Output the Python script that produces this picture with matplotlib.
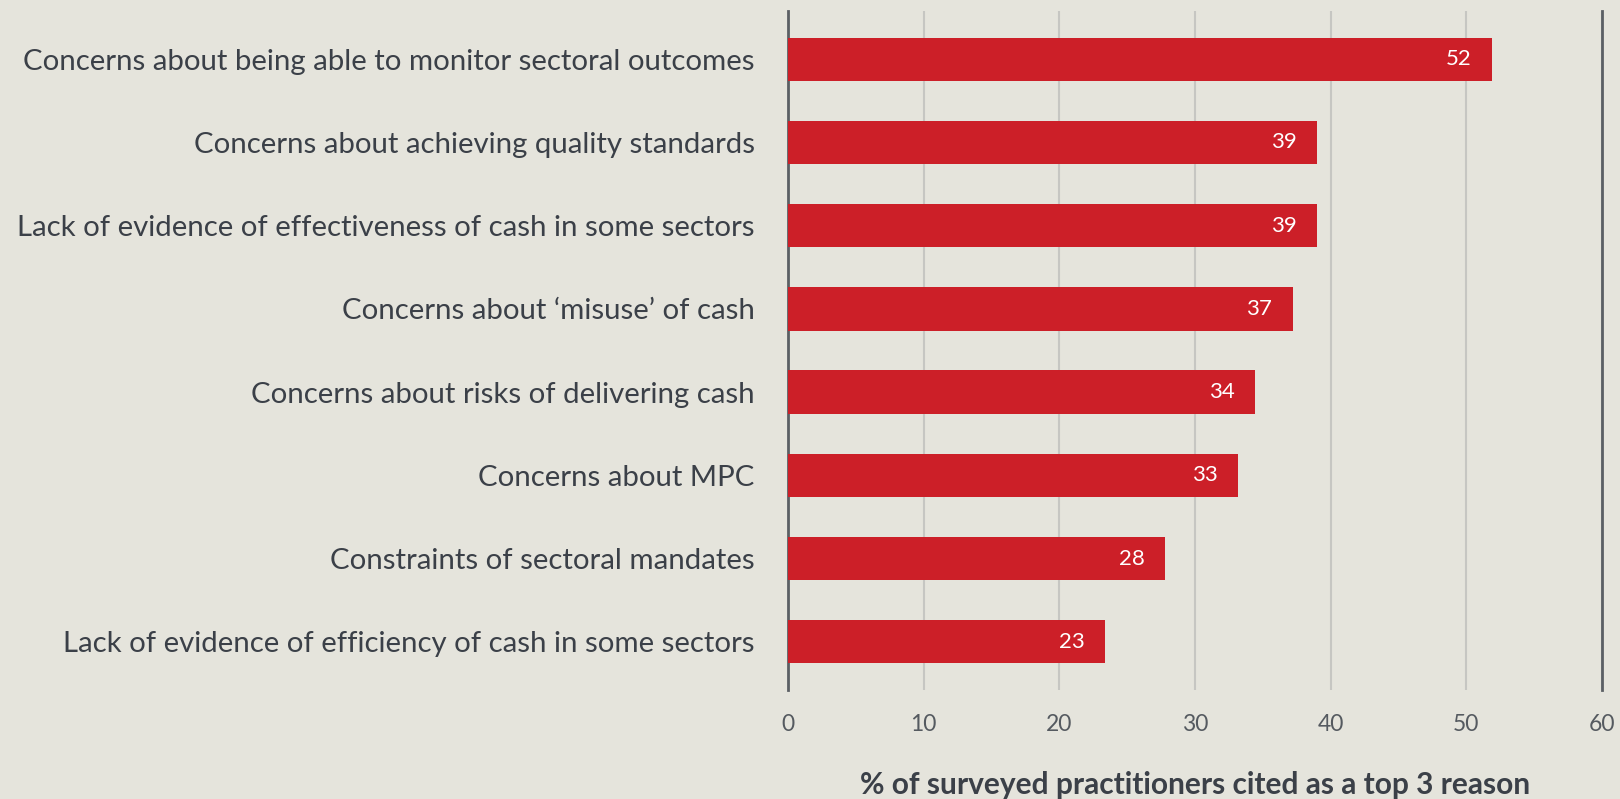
import matplotlib.pyplot as plt

# 데이터
reasons = [
    "Concerns about being able to monitor sectoral outcomes",
    "Concerns about achieving quality standards",
    "Lack of evidence of effectiveness of cash in some sectors",
    "Concerns about \u2018misuse\u2019 of cash",
    "Concerns about risks of delivering cash",
    "Concerns about MPC",
    "Constraints of sectoral mandates",
    "Lack of evidence of efficiency of cash in some sectors",
]
values = [51.9, 39.0, 39.0, 37.2, 34.4, 33.2, 27.8, 23.4]
value_labels = ["52", "39", "39", "37", "34", "33", "28", "23"]
x_ticks = [0, 10, 20, 30, 40, 50, 60]

bg = "#E5E4DC"
red = "#CC1F28"
text_col = "#3B4048"

plt.rcParams['font.family'] = ['Lato', 'DejaVu Sans']

fig = plt.figure(figsize=(16.2, 7.99), dpi=100, facecolor=bg)
ax = fig.add_axes([0.4864, 0.1364, 0.5025, 0.8498], facecolor=bg)

pos = list(range(len(reasons)))
ax.barh(pos, values, height=0.52, color=red, zorder=3)

# 막대 안쪽 값 표시
for p, v, lab in zip(pos, values, value_labels):
    ax.text(v - 1.5, p, lab, ha="right", va="center", color="white",
            fontsize=16, zorder=4)

ax.set_xlim(0, 60)
ax.set_ylim(7.58, -0.58)
ax.set_xticks(x_ticks)
ax.set_yticks(pos)
ax.set_yticklabels(reasons, fontsize=21.2, color=text_col)
ax.tick_params(axis="y", length=0, pad=24)
ax.tick_params(axis="x", length=0, pad=17, labelsize=16.5, labelcolor="#555A60")

ax.grid(axis="x", color="#C6C6C2", linewidth=1.5, zorder=0)
for side in ["top", "bottom"]:
    ax.spines[side].set_visible(False)
for side in ["left", "right"]:
    ax.spines[side].set_color("#5B5F64")
    ax.spines[side].set_linewidth(2)

ax.set_xlabel("% of surveyed practitioners cited as a top 3 reason",
              fontsize=21.5, fontweight="bold", color=text_col, labelpad=26)

plt.savefig("out.png", dpi=100, facecolor=bg)
